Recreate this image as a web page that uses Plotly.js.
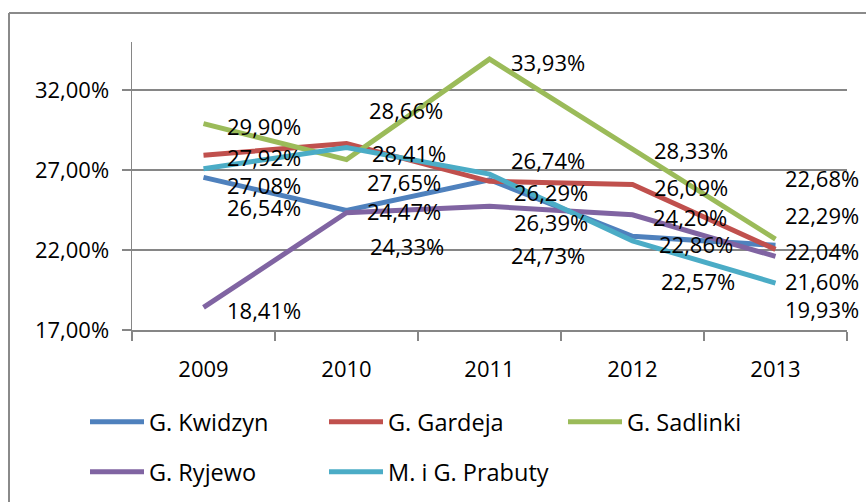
<!DOCTYPE html>
<html>
<head>
<meta charset="utf-8">
<script src="https://cdn.plot.ly/plotly-3.0.1.min.js"></script>
<style>html,body{margin:0;padding:0;background:#fff;}#chart{width:866px;height:502px;}</style>
</head>
<body>
<div id="chart"></div>
<script>
// ---- data ----
const years = ['2009', '2010', '2011', '2012', '2013'];
const seriesNames = ['G. Kwidzyn', 'G. Gardeja', 'G. Sadlinki', 'G. Ryjewo', 'M. i G. Prabuty'];
const kwidzyn  = [26.54, 24.47, 26.39, 22.86, 22.29];
const gardeja  = [27.92, 28.66, 26.29, 26.09, 22.04];
const sadlinki = [29.90, 27.65, 33.93, 28.33, 22.68];
const ryjewo   = [18.41, 24.33, 24.73, 24.20, 21.60];
const prabuty  = [27.08, 28.41, 26.74, 22.57, 19.93];
const yTickVals = [17, 22, 27, 32];
const yTickText = ['17,00%', '22,00%', '27,00%', '32,00%'];

// ---- styles / label placement (pixel offsets from each point) ----
const colors = ['#4F81BD', '#C0504D', '#9BBB59', '#8064A2', '#4BACC6'];
const labelDx = [
  [22, 19, 23, 25, 8],
  [22, 21, 23, 20, 8],
  [22, 19, 20, 20, 8],
  [22, 22, 20, 19, 8],
  [22, 24, 20, 27, 8]
];
const labelDy = [
  [-30, -1, -42, -8, 30],
  [-2, 33, -11, -2, -2],
  [-2, -22, -3, -1, 61],
  [-3, -33, -49, -2, -25],
  [-16, -6, 14, -40, -26]
];

const allSeries = [kwidzyn, gardeja, sadlinki, ryjewo, prabuty];
const FONT = 'Open Sans, Liberation Sans, sans-serif';
const NUM_SIZE = 22;
const fmt = v => v.toFixed(2).replace('.', ',') + '%';

const W = 866, H = 502;
const M = {l: 132, r: 19, t: 42, b: 172};
const PW = W - M.l - M.r, PH = H - M.t - M.b;
const px = x => (x - M.l) / PW;
const py = y => (H - M.b - y) / PH;

const traces = allSeries.map((s, i) => ({
  type: 'scatter', mode: 'lines', x: years, y: s, name: seriesNames[i],
  line: {color: colors[i], width: 5},
  legend: i < 3 ? 'legend' : 'legend2',
  hoverinfo: 'skip'
}));

const annotations = [];
allSeries.forEach((s, i) => {
  s.forEach((v, j) => {
    annotations.push({
      x: j, y: v, xref: 'x', yref: 'y', text: fmt(v), showarrow: false,
      xanchor: 'left', yanchor: 'middle', xshift: labelDx[i][j], yshift: labelDy[i][j],
      borderpad: 0,
      font: {family: FONT, size: NUM_SIZE, color: '#000'}
    });
  });
});

const shapes = [
  {type: 'line', xref: 'paper', yref: 'paper', x0: px(9), x1: px(9), y0: py(13), y1: py(H + 5), line: {color: '#8a8a8a', width: 2}},
  {type: 'line', xref: 'paper', yref: 'paper', x0: px(9), x1: px(W + 5), y0: py(13), y1: py(13), line: {color: '#8a8a8a', width: 2}}
];

const legendCommon = {
  orientation: 'h', xanchor: 'left', yanchor: 'middle', xref: 'container', yref: 'container',
  entrywidth: 170, entrywidthmode: 'pixels',
  itemwidth: 54, font: {family: FONT, size: 23.5, color: '#000'}, bgcolor: 'rgba(0,0,0,0)', borderwidth: 0,
  itemclick: false, itemdoubleclick: false
};

const layout = {
  width: W, height: H, margin: M,
  paper_bgcolor: '#fff', plot_bgcolor: '#fff',
  font: {family: FONT, size: NUM_SIZE, color: '#000'},
  showlegend: true,
  xaxis: {
    type: 'category', range: [-0.5, 4.5], tickson: 'boundaries', ticks: 'outside', ticklen: 9,
    tickcolor: '#868686', tickwidth: 1.5, showline: true, linecolor: '#868686', linewidth: 1.5,
    showgrid: false, zeroline: false, tickfont: {family: FONT, size: NUM_SIZE, color: '#000'}, ticklabelstandoff: 19
  },
  yaxis: {
    range: [17, 35], tickvals: yTickVals, ticktext: yTickText, ticks: 'outside', ticklen: 9,
    tickcolor: '#868686', tickwidth: 1.5, showline: true, linecolor: '#868686', linewidth: 1.5,
    showgrid: true, gridcolor: '#868686', gridwidth: 1.5, zeroline: false,
    tickfont: {family: FONT, size: NUM_SIZE, color: '#000'}, ticklabelstandoff: 8
  },
  legend: Object.assign({}, legendCommon, {x: 85 / W, y: 1 - 422 / H}),
  legend2: Object.assign({}, legendCommon, {x: 85 / W, y: 1 - 472 / H}),
  annotations: annotations,
  shapes: shapes
};

Plotly.newPlot('chart', traces, layout, {staticPlot: true, displayModeBar: false});
</script>
</body>
</html>
